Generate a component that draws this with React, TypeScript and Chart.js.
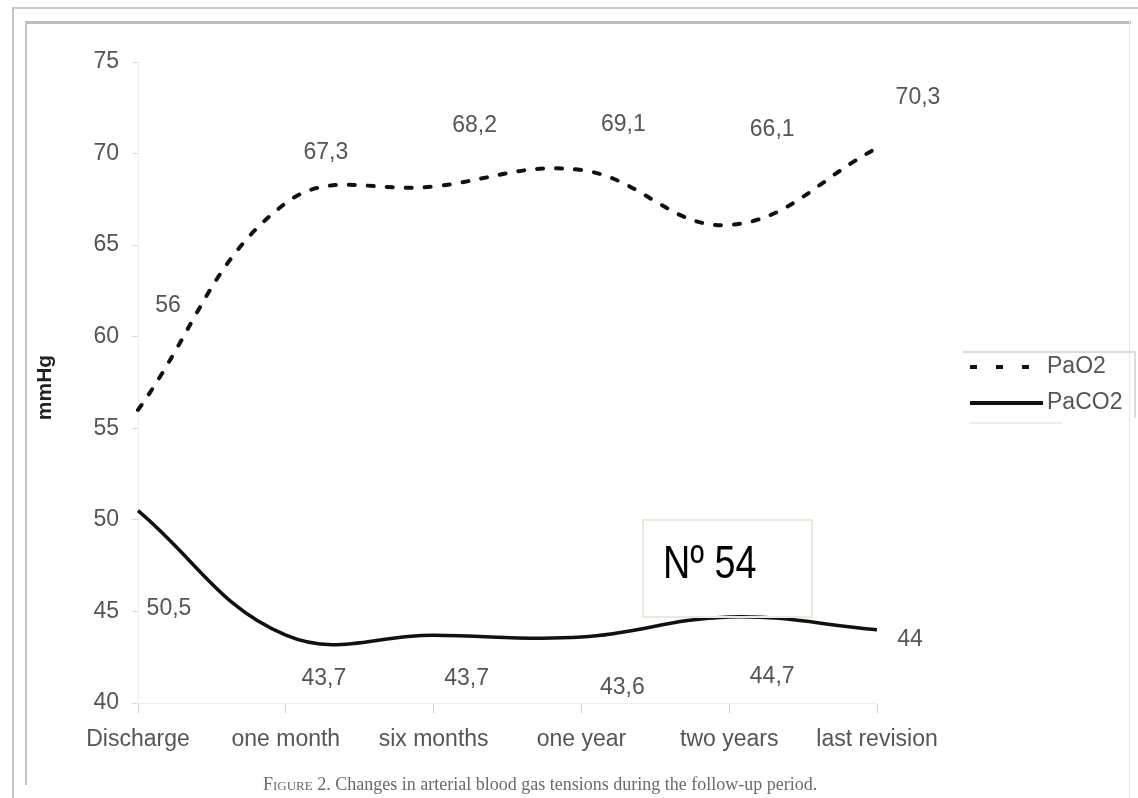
import React, { useEffect, useRef } from "react";
import { Chart, registerables } from "chart.js";

Chart.register(...registerables);

const categories = ["Discharge", "one month", "six months", "one year", "two years", "last revision"];
const pao2Values = [56, 67.3, 68.2, 69.1, 66.1, 70.3];
const paco2Values = [50.5, 43.7, 43.7, 43.6, 44.7, 44];
const yMin = 40;
const yMax = 75;
const yStep = 5;
const seriesNames = ["PaO2", "PaCO2"];
const yTitle = "mmHg";
const captionHead = "Figure 2.";
const captionBody = " Changes in arterial blood gas tensions during the follow-up period.";
const stamp = "Nº 54";

// pixel shifts of each value label from its point
const pao2LabelShift = [[30, -104], [40, -50], [41, -61], [42, -45], [43, -95], [41, -50]];
const paco2LabelShift = [[31, 98], [38, 43], [33, 43], [41, 51], [43, 60], [33, 10]];

const FONT = "'Liberation Sans', Arial, sans-serif";

const fmt = (v: number) => String(v).replace(".", ",");

const labelsPlugin = {
  id: "valueLabels",
  afterDatasetsDraw(chart: any) {
    const ctx = chart.ctx;
    const shifts = [pao2LabelShift, paco2LabelShift];
    ctx.save();
    ctx.font = `23px ${FONT}`;
    ctx.fillStyle = "#555";
    ctx.textAlign = "center";
    ctx.textBaseline = "middle";
    chart.data.datasets.forEach((ds: any, di: number) => {
      const meta = chart.getDatasetMeta(di);
      meta.data.forEach((pt: any, i: number) => {
        const s = shifts[di][i];
        ctx.fillText(fmt(ds.data[i]), pt.x + s[0], pt.y + s[1]);
      });
    });
    ctx.restore();
  },
};

const decorPlugin = {
  id: "decor",
  afterDraw(chart: any) {
    const ctx = chart.ctx;
    const area = chart.chartArea;
    ctx.save();
    // y axis title
    ctx.translate(45, (area.top + area.bottom) / 2 + 5);
    ctx.rotate(-Math.PI / 2);
    ctx.font = `bold 21px ${FONT}`;
    ctx.fillStyle = "#222";
    ctx.textAlign = "center";
    ctx.textBaseline = "middle";
    ctx.fillText(yTitle, 0, 0);
    ctx.restore();

    // legend
    ctx.save();
    const lx = area.right + 90;
    ctx.strokeStyle = "#dcdcdc";
    ctx.lineWidth = 2;
    ctx.beginPath();
    ctx.moveTo(lx - 4, 352);
    ctx.lineTo(lx + 168, 352);
    ctx.lineTo(lx + 168, 418);
    ctx.stroke();
    ctx.strokeStyle = "#ececec";
    ctx.lineWidth = 2;
    ctx.beginPath();
    ctx.moveTo(lx + 2, 423);
    ctx.lineTo(lx + 95, 423);
    ctx.stroke();
    chart.data.datasets.forEach((ds: any, di: number) => {
      const y = di === 0 ? 367 : 403;
      ctx.strokeStyle = ds.borderColor;
      ctx.lineWidth = 4;
      ctx.setLineDash(di === 0 ? [7, 19] : []);
      ctx.beginPath();
      ctx.moveTo(lx + 3, y);
      ctx.lineTo(lx + 76, y);
      ctx.stroke();
      ctx.setLineDash([]);
      ctx.font = `23px ${FONT}`;
      ctx.fillStyle = "#555";
      ctx.textAlign = "left";
      ctx.textBaseline = "middle";
      ctx.fillText(ds.label, lx + 80, y);
    });
    ctx.restore();
  },
};

function ChartView() {
  const ref = useRef<HTMLCanvasElement | null>(null);
  useEffect(() => {
    if (!ref.current) return;
    const chart = new Chart(ref.current, {
      type: "line",
      data: {
        labels: categories,
        datasets: [
          {
            label: seriesNames[0],
            data: pao2Values,
            borderColor: "#111",
            borderWidth: 4,
            borderDash: [6, 13],
            borderCapStyle: "round",
            pointRadius: 0,
            tension: 0.4,
            fill: false,
          },
          {
            label: seriesNames[1],
            data: paco2Values,
            borderColor: "#111",
            borderWidth: 3.5,
            pointRadius: 0,
            tension: 0.4,
            fill: false,
          },
        ],
      },
      options: {
        animation: false,
        responsive: false,
        layout: { padding: { left: 0, top: 62, right: 261, bottom: 0 } },
        plugins: { legend: { display: false }, tooltip: { enabled: false } },
        scales: {
          x: {
            afterFit: (s: any) => { s.height = 95; },
            grid: { drawOnChartArea: false, tickLength: 10, color: "#cfcfcf" },
            border: { color: "#eeeeee" },
            ticks: { color: "#555", font: { size: 23, family: FONT }, padding: 13, maxRotation: 0, autoSkip: false },
          },
          y: {
            min: yMin,
            max: yMax,
            afterFit: (s: any) => { s.width = 138; },
            grid: { drawOnChartArea: false, tickLength: 6, color: "#dddddd" },
            border: { color: "#eeeeee" },
            ticks: { stepSize: yStep, color: "#555", font: { size: 23, family: FONT }, padding: 13 },
          },
        },
      },
      plugins: [labelsPlugin, decorPlugin],
    } as any);
    return () => chart.destroy();
  }, []);
  return <canvas ref={ref} width={1138} height={798} style={{ position: "absolute", left: 0, top: 0 }} />;
}

export default function App() {
  const line = (l: number, t: number, w: number, h: number, c: string) => (
    <div style={{ position: "absolute", left: l, top: t, width: w, height: h, background: c }} />
  );
  return (
    <div style={{ position: "absolute", left: 0, top: 0, width: 1138, height: 798, background: "#fff", overflow: "hidden" }}>
      {line(12, 7, 1126, 2, "#cccccc")}
      {line(12, 7, 2, 791, "#c4c4c4")}
      {line(25, 21, 1106, 3, "#bdbdbd")}
      {line(25, 21, 2, 764, "#c4c4c4")}
      {line(1129, 21, 1, 777, "#e6e6e6")}
      <ChartView />
      <div
        style={{
          position: "absolute",
          left: 642,
          top: 519,
          width: 167,
          height: 95,
          border: "2px solid #ebe8dc",
        }}
      >
        <div
          style={{
            position: "absolute",
            left: 19,
            top: 16,
            fontFamily: FONT,
            fontSize: 46,
            lineHeight: "50px",
            color: "#000",
            transform: "scaleX(0.82)",
            transformOrigin: "left top",
            whiteSpace: "nowrap",
          }}
        >
          {stamp}
        </div>
      </div>
      <div
        style={{
          position: "absolute",
          left: 263,
          top: 774,
          fontFamily: "'Liberation Serif', 'DejaVu Serif', serif",
          fontSize: 18,
          color: "#6a6a6a",
          whiteSpace: "nowrap",
        }}
      >
        <span style={{ fontVariant: "small-caps" }}>{captionHead}</span>
        {captionBody}
      </div>
    </div>
  );
}
